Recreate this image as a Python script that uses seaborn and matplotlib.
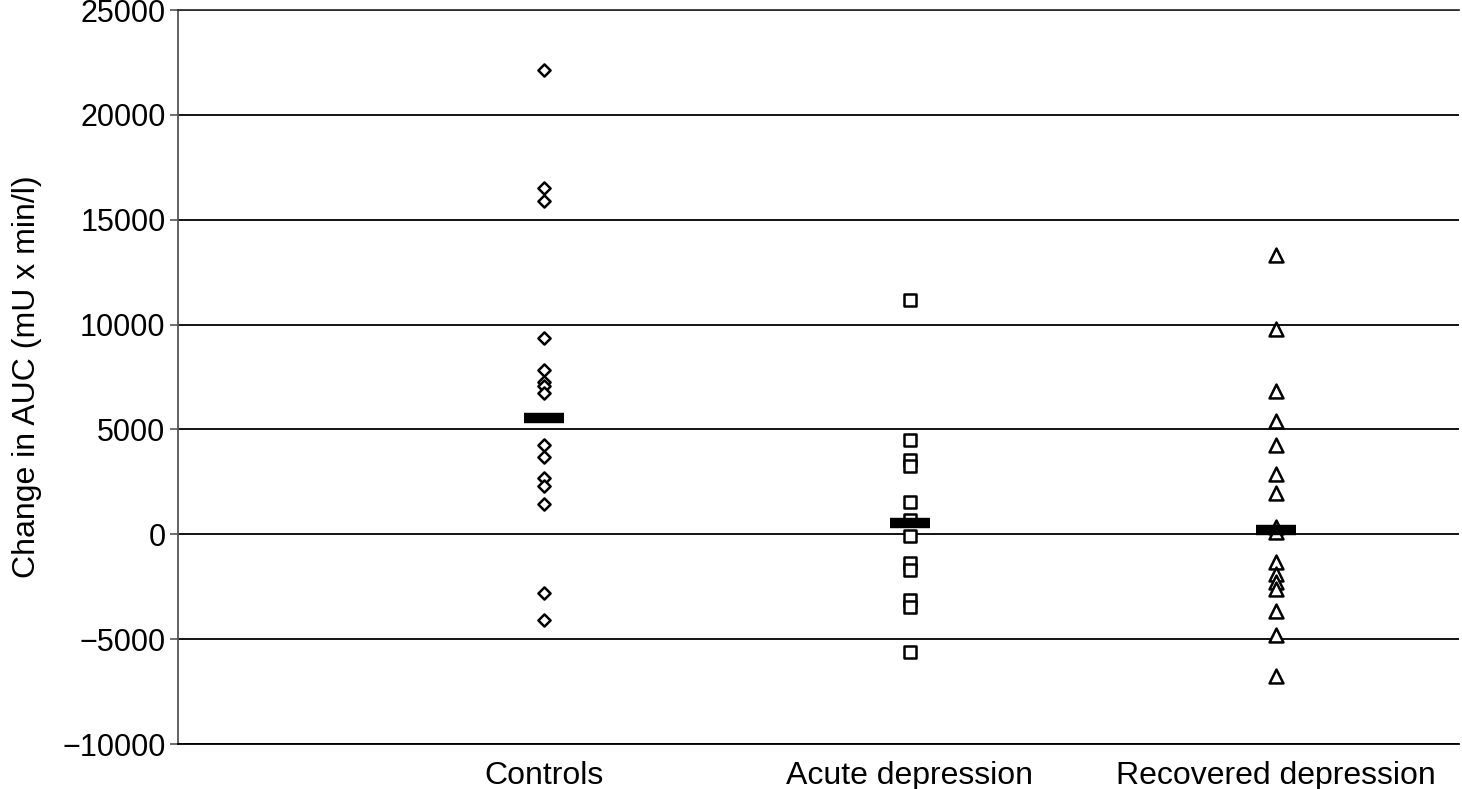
import numpy as np
import pandas as pd
import seaborn as sns
import matplotlib.pyplot as plt

# values (change in AUC, mU x min/l)
groups = ["Controls", "Acute depression", "Recovered depression"]
controls = [22150, 16500, 15900, 9350, 7850, 7250, 7050, 6750, 4250, 3700,
            2700, 2300, 1450, -2800, -4100]
acute = [11150, 4500, 3550, 3250, 1550, 700, -100, -1380, -1700, -3130,
         -3450, -5600]
recovered = [13300, 9800, 6850, 5380, 4260, 2870, 1950, 360, 100, -1340,
             -1900, -2290, -2610, -3640, -4820, -6740]
group_means = [5550, 560, 220]
yticks = [-10000, -5000, 0, 5000, 10000, 15000, 20000, 25000]

df = pd.concat([
    pd.DataFrame({"group": groups[0], "auc": controls}),
    pd.DataFrame({"group": groups[1], "auc": acute}),
    pd.DataFrame({"group": groups[2], "auc": recovered}),
])

sns.set_style("white")
plt.rcParams["font.family"] = ["Liberation Sans", "DejaVu Sans"]
plt.rcParams["text.color"] = "black"
plt.rcParams["axes.labelcolor"] = "black"

fig, ax = plt.subplots(figsize=(14.62, 7.89), dpi=100)
fig.subplots_adjust(left=178/1462, right=1459/1462, bottom=45/789, top=779/789)

markers = {"Controls": "D", "Acute depression": "s", "Recovered depression": "^"}
sizes = {"Controls": 6.2, "Acute depression": 9.3, "Recovered depression": 10.0}
for g in groups:
    sns.stripplot(data=df[df.group == g], x="group", y="auc", order=groups,
                  jitter=False, marker=markers[g], size=sizes[g],
                  color="white", edgecolor="black", linewidth=1.8,
                  ax=ax, zorder=3)

# group mean bars
ax.plot(np.arange(len(groups)), group_means, linestyle="none", marker="_",
        ms=29, mew=7.5, color="black", zorder=5)

ax.set_xlim(-1, 2.5)
ax.set_ylim(-10000, 25000)
ax.set_yticks(yticks)
ax.set_yticklabels([f"{t}".replace("-", "\u2212") for t in yticks])
ax.yaxis.grid(True, color="black", linewidth=1.3)
ax.set_axisbelow(True)

ax.spines["right"].set_visible(False)
ax.spines["top"].set_color("#333333")
ax.spines["top"].set_linewidth(1.3)
ax.spines["bottom"].set_color("black")
ax.spines["bottom"].set_linewidth(1.3)
ax.spines["left"].set_color("#555555")
ax.spines["left"].set_linewidth(1.3)

ax.tick_params(axis="y", left=True, length=6, width=1.2, color="#555555",
               labelcolor="black", pad=3, labelsize=22)
ax.tick_params(axis="x", bottom=False, length=0, pad=12, labelsize=23,
               labelcolor="black")

ax.set_xlabel("")
ax.set_ylabel("Change in AUC (mU x min/l)", fontsize=23)
ax.yaxis.set_label_coords(-0.106, 0.5)

plt.savefig("out.png", dpi=100)
